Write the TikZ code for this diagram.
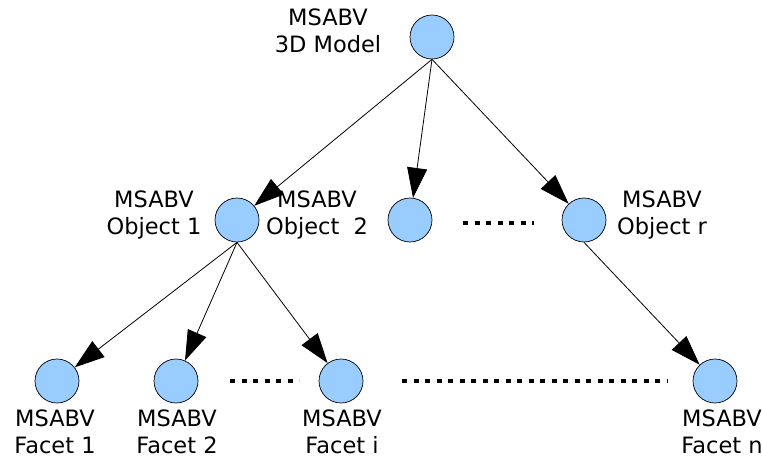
\documentclass[tikz,border=0pt]{standalone}
\usepackage{fontspec}
\setmainfont{DejaVu Sans}
\usetikzlibrary{arrows.meta}
\definecolor{ballblue}{RGB}{153,204,255}
\tikzset{
  ball/.style={circle, draw=black, line width=0.7pt, fill=ballblue, minimum size=44pt, inner sep=0pt},
  lbl/.style={align=center, font=\fontsize{22.5}{27}\selectfont, inner sep=0pt},
  link/.style={line width=0.8pt, -{Triangle[length=30pt,width=20pt]}},
  dots/.style={line width=4.5pt, dash pattern=on 5pt off 6.5pt}
}
\begin{document}
\begin{tikzpicture}[x=1pt, y=-1pt]
  \useasboundingbox (0,0) rectangle (762,461);

  % tree nodes
  \node[ball] (root) at (432,37) {};
  \node[ball] (o1) at (237,220) {};
  \node[ball] (o2) at (410,220) {};
  \node[ball] (or) at (584,220) {};
  \node[ball] (f1) at (57,381) {};
  \node[ball] (f2) at (176,381) {};
  \node[ball] (fi) at (341,381) {};
  \node[ball] (fn) at (715,381) {};

  % labels
  \node[lbl] (lroot) at (328,31) {MSABV\\3D Model};
  \node[lbl] (lo1) at (154,215) {MSABV\\Object 1};
  \node[lbl] (lo2) at (317,215) {MSABV\\Object\ \ 2};
  \node[lbl] (lor) at (662,215) {MSABV\\Object r};
  \node[lbl] (lf1) at (55,432) {MSABV\\Facet 1};
  \node[lbl] (lf2) at (177,432) {MSABV\\Facet 2};
  \node[lbl] (lfi) at (342,432) {MSABV\\Facet i};
  \node[lbl] (lfn) at (722,432) {MSABV\\Facet n};

  % connectors
  \draw[link] (root.south) -- (o1);
  \draw[link] (root.south) -- (o2);
  \draw[link] (root.south) -- (or);
  \draw[link] (o1.south) -- (f1);
  \draw[link] (o1.south) -- (f2);
  \draw[link] (o1.south) -- (fi);
  \draw[link] (or.south) -- (fn);

  % ellipsis markers
  \coordinate (d1a) at (463,223);
  \coordinate (d1b) at (534,223);
  \coordinate (d2a) at (230,381);
  \coordinate (d2b) at (299,381);
  \coordinate (d3a) at (402,381);
  \coordinate (d3b) at (668,381);
  \draw[dots] (d1a) -- (d1b);
  \draw[dots] (d2a) -- (d2b);
  \draw[dots] (d3a) -- (d3b);
\end{tikzpicture}
\end{document}
